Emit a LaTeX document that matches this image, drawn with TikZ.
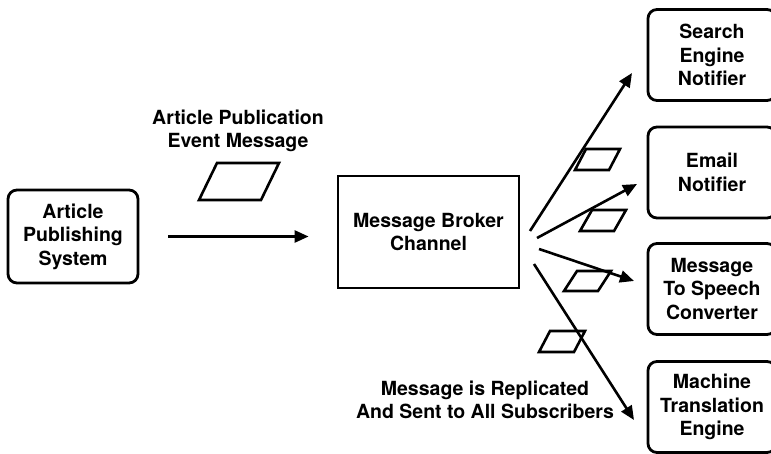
\documentclass[tikz,border=0pt]{standalone}
\usepackage{fontspec}
\setmainfont{TeX Gyre Heros}
\usetikzlibrary{arrows.meta}
\def\msgcard(#1,#2)(#3:#4:#5){\draw[card] (#1,#2) -- ++(#3,0) -- ++(#5,-#4) -- ++(-#3,0) -- cycle;}
\tikzset{
  service/.style={draw, line width=2.8pt, rounded corners=9pt, align=center,
    minimum width=128pt, minimum height=91pt, inner sep=0pt},
  channel/.style={draw, line width=2.8pt, align=center,
    minimum width=181pt, minimum height=112pt, inner sep=0pt},
  caption/.style={align=center},
  flow/.style={line width=2.6pt, -{Triangle[length=14pt,width=12pt]}},
  card/.style={line width=2.6pt, line join=miter},
}

\begin{document}
\begin{tikzpicture}[x=1pt, y=-1pt, font=\bfseries\fontsize{19.5}{23.5}\selectfont]
			%%%%% START %%%%%
			\useasboundingbox (0,0) rectangle (771,454);
			\clip (0,0) rectangle (771,454);
			
			\node[service, minimum width=130pt, minimum height=93pt] (pub) at (73,236.5) {Article\\Publishing\\System};
			\node[channel] (broker) at (428.5,232) {Message Broker\\Channel};
			
			\node[service] (search) at (712,55) {Search\\Engine\\Notifier};
			\node[service] (email) at (712,172.5) {Email\\Notifier};
			\node[service] (speech) at (712,289) {Message\\To Speech\\Converter};
			\node[service] (trans) at (712,407) {Machine\\Translation\\Engine};
			
			\node[caption] (evt) at (238,131) {Article Publication\\Event Message};
			\node[caption] (repl) at (485,400) {Message is Replicated\\And Sent to All Subscribers};
			
			% publish
			\draw[flow, shorten <=29pt, shorten >=28pt] (pub.east) -- (pub.east -| broker.west);
			\msgcard(199,200)(62:37:18)
			
			% fan out
			\coordinate (s1) at (530,231);
			\coordinate (s2) at (537,238);
			\coordinate (s3) at (539,249);
			\coordinate (s4) at (534,264);
			\coordinate (e1) at (632,73);
			\coordinate (e2) at (637,184);
			\coordinate (e3) at (634,281);
			\coordinate (e4) at (634,420);
			
			\draw[flow] (s1) -- (e1);
			\draw[flow] (s2) -- (e2);
			\draw[flow] (s3) -- (e3);
			\draw[flow] (s4) -- (e4);
			
			\msgcard(575,170)(34:21:11)
			\msgcard(580,231)(34:21:12)
			\msgcard(564,291)(34:20:13)
			\msgcard(539,352)(35:21:11)
			%%%%% END %%%%%
\end{tikzpicture}
\end{document}
